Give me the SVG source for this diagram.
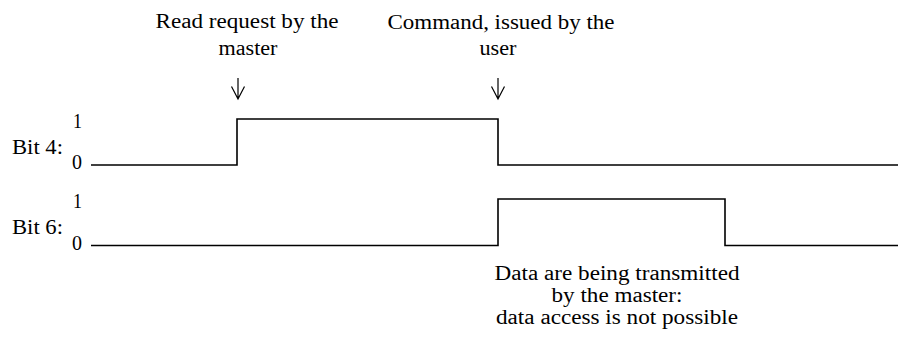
<svg xmlns="http://www.w3.org/2000/svg" width="901" height="344" viewBox="0 0 901 344" font-family="'Liberation Serif', 'Times New Roman', serif" font-size="20.5">
<style>
.m{text-anchor:middle}
.sig{fill:none;stroke:#000;stroke-width:1.6}
.arr{fill:none;stroke:#000;stroke-width:1.2}
</style>
<rect width="901" height="344" fill="#fff"/>
<g id="label-bit4">
<text x="12" y="154" textLength="51" lengthAdjust="spacingAndGlyphs">Bit 4:</text>
<text x="73" y="128" textLength="9" lengthAdjust="spacingAndGlyphs">1</text>
<text x="72" y="169" textLength="10" lengthAdjust="spacingAndGlyphs">0</text>
</g>
<g id="label-bit6">
<text x="12" y="234" textLength="51" lengthAdjust="spacingAndGlyphs">Bit 6:</text>
<text x="73" y="208" textLength="9" lengthAdjust="spacingAndGlyphs">1</text>
<text x="72" y="250" textLength="10" lengthAdjust="spacingAndGlyphs">0</text>
</g>
<g id="note-read">
<text class="m" x="247" y="28" textLength="183" lengthAdjust="spacingAndGlyphs">Read request by the</text>
<text class="m" x="248" y="55" textLength="59" lengthAdjust="spacingAndGlyphs">master</text>
</g>
<g id="note-command">
<text class="m" x="501" y="29" textLength="227" lengthAdjust="spacingAndGlyphs">Command, issued by the</text>
<text class="m" x="498" y="55" textLength="37" lengthAdjust="spacingAndGlyphs">user</text>
</g>
<g id="note-data">
<text class="m" x="617" y="280" textLength="245" lengthAdjust="spacingAndGlyphs">Data are being transmitted</text>
<text class="m" x="617" y="302" textLength="131" lengthAdjust="spacingAndGlyphs">by the master:</text>
<text class="m" x="617" y="324" textLength="242" lengthAdjust="spacingAndGlyphs">data access is not possible</text>
</g>
<g id="connectors">
<path class="sig" d="M91 165H237V119H498V165H898"/>
<path class="sig" d="M91 245.5H498V199H725V245.5H898"/>
<path class="arr" d="M238 78V99M231.5 86.5L238 99L244.5 86.5"/>
<path class="arr" d="M498 78V99M491.5 86.5L498 99L504.5 86.5"/>
</g>
</svg>
